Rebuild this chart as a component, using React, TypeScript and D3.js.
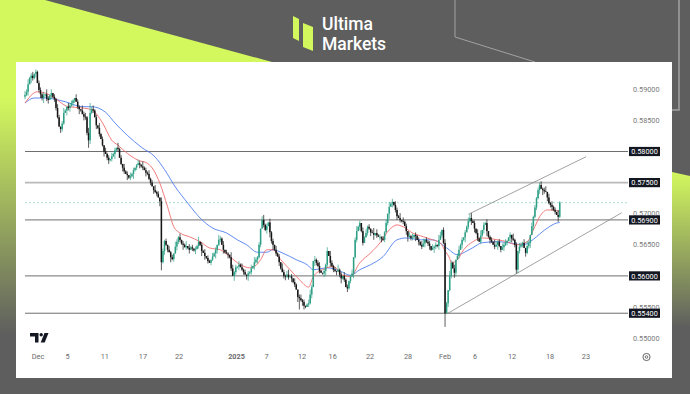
import React from 'react';
import * as d3 from 'd3';

const W = 690, H = 394;

// 4H closes, in pips above 0.55000
const closes = [
  391, 396, 408, 418, 422, 418, 425, 428, 410, 399,
  392, 386, 390, 392, 385, 383, 390, 394, 388, 384,
  370, 355, 340, 336, 345, 362, 366, 372, 370, 374,
  378, 382, 386, 380, 372, 368, 366, 360, 356, 355,
  330, 318, 362, 368, 366, 355, 342, 338, 328, 320,
  310, 300, 296, 290, 286, 288, 292, 296, 302, 306,
  304, 290, 280, 274, 268, 264, 262, 258, 260, 264,
  270, 274, 278, 281, 279, 276, 274, 270, 266, 264,
  256, 250, 244, 238, 235, 232, 226, 220, 122, 140,
  156, 150, 142, 138, 130, 127, 136, 147, 155, 162,
  158, 152, 150, 146, 148, 145, 142, 146, 144, 141,
  143, 148, 155, 150, 140, 137, 132, 129, 124, 121,
  126, 131, 136, 142, 150, 158, 160, 150, 142, 138,
  136, 134, 130, 112, 100, 106, 114, 115, 118, 114,
  110, 106, 102, 100, 104, 106, 112, 116, 122, 126,
  130, 150, 176, 190, 182, 174, 180, 186, 170, 156,
  150, 142, 136, 131, 122, 112, 106, 100, 99, 102,
  98, 99, 96, 90, 86, 78, 66, 64, 61, 58,
  52, 50, 54, 56, 70, 82, 124, 126, 121, 116,
  108, 105, 104, 108, 118, 140, 132, 121, 116, 110,
  108, 107, 110, 102, 96, 100, 94, 82, 80, 92,
  99, 104, 130, 158, 172, 179, 185, 172, 153, 162,
  169, 179, 176, 170, 169, 166, 169, 165, 163, 163,
  160, 158, 170, 185, 200, 211, 216, 219, 214, 206,
  196, 193, 190, 188, 187, 180, 172, 163, 164, 161,
  162, 166, 164, 158, 155, 150, 147, 152, 158, 155,
  152, 148, 142, 145, 147, 150, 148, 158, 165, 174,
  153, 40, 56, 77, 100, 121, 112, 105, 126, 132,
  142, 150, 158, 162, 170, 179, 188, 193, 188, 185,
  176, 169, 160, 155, 165, 174, 182, 185, 172, 163,
  158, 155, 150, 147, 150, 155, 148, 142, 146, 150,
  153, 156, 162, 166, 160, 158, 150, 110, 140, 147,
  150, 153, 145, 137, 148, 153, 166, 180, 195, 210,
  225, 238, 246, 240, 238, 236, 235, 226, 217, 214,
  211, 206, 203, 198, 195, 218,
];
const firstOpen = 388;

// wick lengths, in 2-pip units, one digit per bar
const upWicks =
  '3241230312213042130213202410322103210423140231204120312031204120312031' +
  '2013204121312041203212031204213021403120214021302103120421302104312031' +
  '3120213042120341203120312042134120310231201342031231021304212041203120' +
  '1302412031312024031202130412032140312031302120341212031204302310421302' +
  '3120213041203140213012043120323102041203213042031212031240313120412031';
const downWicks =
  '2130421302324123031221032104231320241032203120312014023120412013204121' +
  '4120312031120312042131204120322140213021302140312021043120310312042130' +
  '1203412031312021304241203102312031204213310213042120134203121302412031' +
  '2041203120021304120331202403123021203412214031203123104213021203120430' +
  '2031402130312021304131020412031204312032120312403121304203123120412031';

// bars whose wick runs far past the body: [bar, low or high in pips]
const longLows = [[88, 109], [271, 18], [317, 104], [41, 306], [177, 46]];
const longHighs = [[7, 432], [42, 378], [153, 196], [237, 224], [287, 199], [332, 250]];

// moving averages: [bar, pips]
const redMA = [
  [0, 378], [8, 396], [13, 394], [19, 386], [28, 372], [37, 370], [43, 367], [50, 346],
  [56, 318], [60, 310], [66, 297], [73, 286], [79, 281], [83, 270], [87, 249], [92, 211],
  [96, 179], [100, 169], [106, 163], [113, 155], [119, 145], [126, 142], [132, 131],
  [139, 118], [145, 113], [148, 115], [152, 126], [156, 142], [160, 142], [165, 126],
  [171, 110], [177, 94], [183, 82], [186, 99], [192, 110], [199, 115], [205, 101],
  [210, 99], [216, 121], [223, 137], [229, 153], [235, 174], [240, 182], [244, 179],
  [250, 169], [257, 163], [263, 158], [268, 153], [271, 140], [274, 128], [275, 121],
  [279, 126], [283, 142], [289, 155], [295, 161], [305, 158], [311, 155], [317, 150],
  [324, 155], [328, 174], [332, 195], [337, 206], [341, 206], [345, 203],
];
const blueMA = [
  [0, 378], [6, 386], [13, 386], [26, 380], [37, 372], [43, 372], [52, 363], [58, 346],
  [66, 326], [75, 307], [84, 291], [90, 271], [97, 243], [105, 217], [113, 193],
  [121, 177], [130, 169], [137, 158], [143, 150], [150, 138], [156, 138], [160, 142],
  [166, 137], [175, 126], [182, 118], [186, 110], [195, 113], [203, 108], [210, 101],
  [216, 110], [223, 118], [231, 131], [240, 158], [246, 161], [255, 158], [263, 158],
  [272, 145], [279, 134], [285, 140], [292, 150], [294, 153], [305, 155], [313, 153],
  [321, 150], [326, 155], [330, 163], [337, 177], [343, 185], [345, 186],
];

const levels = [0.58, 0.575, 0.569, 0.56, 0.554];
const yTicks = [0.59, 0.585, 0.58, 0.575, 0.57, 0.565, 0.56, 0.555, 0.55];
const xTickBars = [8.4, 27.4, 51.5, 76.1, 99.4, 136.5, 155.8, 178.7, 198.5, 222.6, 247.1, 271, 290.3, 314.2, 338.7, 361.9];
const xTickLabels = ['Dec', '5', '11', '17', '22', '2025', '7', '12', '16', '22', '28', 'Feb', '6', '12', '18', '23'];
const lastPrice = 0.57177;
// channel: [bar, price] end points
const channelUpper = [[286, 0.5699], [362, 0.57916]];
const channelLower = [[272, 0.55387], [385, 0.57016]];

const LIME = '#d3f85e';
const BG = '#5e5e5e';
const FONT = "Roboto, 'Liberation Sans', sans-serif";

export default function App() {
  const x = d3.scaleLinear().domain([0, 345]).range([25, 559.75]);
  const y = d3.scaleLinear().domain([0.55, 0.59]).range([338.1, 89.3]);
  const p = (v: number) => 0.55 + v / 10000;

  const lows = new Map(longLows.map(d => [d[0], d[1]]));
  const highs = new Map(longHighs.map(d => [d[0], d[1]]));

  const candles = closes.map((c, i) => {
    const o = i === 0 ? firstOpen : closes[i - 1];
    const up = Number(upWicks[i] ?? 1) * 2;
    const dn = Number(downWicks[i] ?? 1) * 2;
    const hi = highs.get(i) ?? Math.max(o, c) + up;
    const lo = lows.get(i) ?? Math.min(o, c) - dn;
    return { i, o, c, hi, lo };
  });

  const maLine = d3.line<number[]>()
    .x(d => x(d[0]))
    .y(d => y(p(d[1])))
    .curve(d3.curveMonotoneX);

  // tick labels fully hidden behind a level box are not drawn
  const visibleTicks = yTicks.filter(t => !levels.some(l => Math.abs(l - t) < 1e-9));

  return (
    <svg width={W} height={H} style={{ position: 'fixed', left: 0, top: 0, display: 'block' }}>
      <defs>
        <linearGradient id="leftFade" x1="0" y1="0" x2="0" y2="1">
          <stop offset="0" stopColor={LIME} />
          <stop offset="0.25" stopColor={LIME} />
          <stop offset="0.85" stopColor={BG} />
        </linearGradient>
        <linearGradient id="rightFade" x1="0" y1="0" x2="0" y2="1">
          <stop offset="0" stopColor={LIME} />
          <stop offset="0.7" stopColor={BG} />
        </linearGradient>
      </defs>
      <rect width={W} height={H} fill={BG} />
      <polygon points="0,0 45,0 272,62 0,62" fill={LIME} />
      <rect x={0} y={0} width={16} height={394} fill="url(#leftFade)" />
      <polygon points="672,172 690,176 690,394 672,394" fill="url(#rightFade)" />
      <polyline points="455,0 455,37 535,62" fill="none" stroke="#a2a2a2" strokeWidth={1} />
      <polyline points="679,0 679,110 672,110" fill="none" stroke="#a2a2a2" strokeWidth={1.5} />

      {/* logo */}
      <polygon points="293,16 299,19 299,41 293,38" fill={LIME} />
      <polygon points="303,23 313,27 313,51 303,47" fill={LIME} />
      <text x={322} y={30} fill="#fff" fontFamily={FONT} fontSize={17.5} fontWeight={500}>Ultima</text>
      <text x={322} y={49.5} fill="#fff" fontFamily={FONT} fontSize={17.5} fontWeight={500}>Markets</text>

      {/* chart panel */}
      <rect x={16} y={62} width={656} height={316} fill="#fff" />

      {levels.map(l => (
        <line key={l} x1={25} x2={628} y1={y(l)} y2={y(l)}
          stroke={l === 0.575 ? '#b9b9b9' : '#6e6e6e'} strokeWidth={l === 0.575 ? 1.6 : 1} />
      ))}
      <line x1={25} x2={628} y1={y(lastPrice)} y2={y(lastPrice)} stroke="#8fd3c4" strokeWidth={0.8} strokeDasharray="2,2" />

      {[channelUpper, channelLower].map((c, k) => (
        <line key={k} x1={x(c[0][0])} y1={y(c[0][1])} x2={x(c[1][0])} y2={y(c[1][1])} stroke="#8a8a8a" strokeWidth={0.8} />
      ))}

      <path d={maLine(blueMA) ?? ''} fill="none" stroke="#4f7ff0" strokeWidth={0.9} />
      <path d={maLine(redMA) ?? ''} fill="none" stroke="#f06c6c" strokeWidth={0.9} />

      {candles.map(d => {
        const col = d.c >= d.o ? '#2c9f85' : '#151515';
        const cx = x(d.i);
        const top = y(p(Math.max(d.o, d.c)));
        const bot = y(p(Math.min(d.o, d.c)));
        return (
          <g key={d.i}>
            <line x1={cx} x2={cx} y1={y(p(d.hi))} y2={y(p(d.lo))} stroke={col} strokeWidth={0.7} />
            <rect x={cx - 0.75} y={top} width={1.5} height={Math.max(0.8, bot - top)} fill={col} />
          </g>
        );
      })}

      {/* price scale */}
      {visibleTicks.map(t => (
        <text key={t} x={633} y={y(t) + 2.6} fill="#7a7a7a" fontFamily={FONT} fontSize={7.3}>{t.toFixed(5)}</text>
      ))}
      {levels.map(l => (
        <g key={l}>
          <rect x={629} y={y(l) - 4.6} width={31} height={9.2} fill="#131722" />
          <text x={644.5} y={y(l) + 2.6} fill="#fff" fontFamily={FONT} fontSize={7.3} textAnchor="middle">{l.toFixed(5)}</text>
        </g>
      ))}

      {/* time scale */}
      {xTickBars.map((b, k) => (
        <text key={k} x={x(b)} y={359} fill="#6a6a6a" fontFamily={FONT} fontSize={7.3} textAnchor="middle"
          fontWeight={xTickLabels[k] === '2025' ? 700 : 400}>{xTickLabels[k]}</text>
      ))}
      <circle cx={646.5} cy={357} r={3.6} fill="none" stroke="#555" strokeWidth={0.9} />
      <circle cx={646.5} cy={357} r={1.3} fill="none" stroke="#555" strokeWidth={0.8} />

      {/* TradingView mark */}
      <path d="M30 333 h8.5 v9.5 h-3.5 v-6 h-5z" fill="#131722" />
      <circle cx={41.2} cy={334.8} r={1.7} fill="#131722" />
      <path d="M44.5 333 h4 l-3.8 9.5 h-4z" fill="#131722" />
    </svg>
  );
}
